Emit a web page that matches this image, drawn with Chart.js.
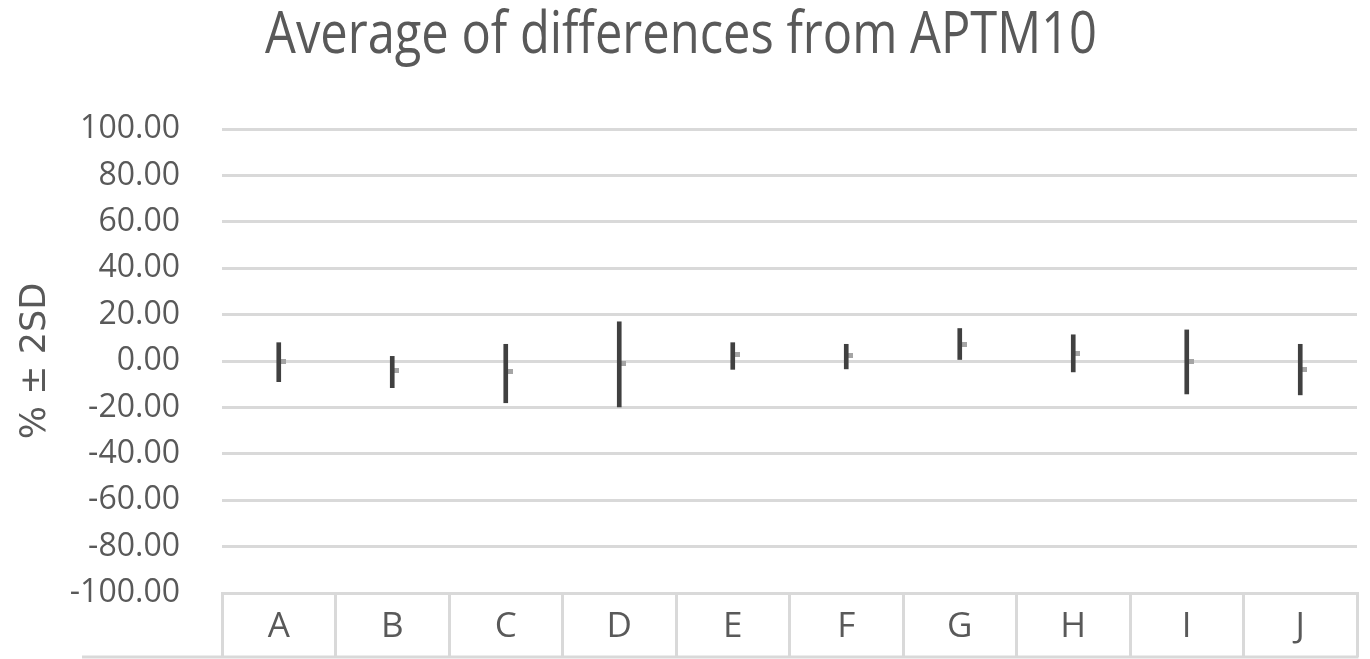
<!DOCTYPE html>
<html>
<head>
<meta charset="utf-8">
<script src="https://cdn.jsdelivr.net/npm/chart.js@4"></script>
<style>
  body { margin: 0; background: #ffffff; }
  #wrap { width: 1370px; height: 659px; }
</style>
</head>
<body>
<div id="wrap"><canvas id="chart" width="1370" height="659"></canvas></div>
<script>
// values
const categories = ['A', 'B', 'C', 'D', 'E', 'F', 'G', 'H', 'I', 'J'];
const means = [-0.3, -4.0, -4.7, -1.1, 2.9, 2.2, 7.3, 3.3, -0.3, -3.6];
const upper = [7.9, 2.0, 7.2, 16.9, 7.9, 7.2, 14.0, 11.3, 13.4, 7.2];
const lower = [-8.9, -11.5, -18.0, -19.8, -3.6, -3.4, 0.0, -4.7, -14.2, -14.6];
const yTicks = [100, 80, 60, 40, 20, 0, -20, -40, -60, -80, -100];

const titleText = 'Average of differences from APTM10';
const axisTitleText = '% ± 2SD';
const textColor = '#595959';
const gridColor = '#d9d9d9';

// small grey dash sitting just right of each bar centre
function makeMeanMarker() {
    const c = document.createElement('canvas');
    c.width = 14;
    c.height = 5;
    const g = c.getContext('2d');
    g.fillStyle = '#a5a5a5';
    g.fillRect(7, 0, 7, 5);
    return c;
}

// the reference title is a tall, narrow face: draw Open Sans fitted to the
// same width and stretched vertically to the same cap height
const tallTitle = {
    id: 'tallTitle',
    afterDraw(chart, args, opts) {
        const ctx = chart.ctx;
        ctx.save();
        ctx.font = '100px "Open Sans"';
        const size = 100 * opts.width / ctx.measureText(opts.text).width;
        ctx.font = `${size}px "Open Sans"`;
        ctx.fillStyle = opts.color;
        ctx.textAlign = 'center';
        ctx.textBaseline = 'alphabetic';
        ctx.translate(chart.width / 2 - 4, opts.baseline);
        ctx.scale(1, opts.capHeight / (0.714 * size));
        ctx.fillText(opts.text, 0, 0);
        ctx.restore();
    }
};

// closes the category "table" at the bottom
const bottomRule = {
    id: 'bottomRule',
    afterDraw(chart) {
        const x = chart.scales.x;
        const ctx = chart.ctx;
        const y = x.top + x.options.grid.tickLength;
        ctx.save();
        ctx.strokeStyle = gridColor;
        ctx.lineWidth = 3;
        ctx.beginPath();
        ctx.moveTo(82, y);
        ctx.lineTo(x.right + 1.5, y);
        ctx.stroke();
        ctx.restore();
    }
};

const ranges = categories.map((c, i) => [lower[i], upper[i]]);
const catFont = { family: 'Open Sans', size: 35 };

new Chart(document.getElementById('chart').getContext('2d'), {
    type: 'bar',
    data: {
        labels: categories,
        datasets: [{
            label: '±2SD',
            data: ranges,
            backgroundColor: '#404040',
            barThickness: 4,
            order: 0
        }, {
            type: 'line',
            label: 'Average',
            data: means,
            showLine: false,
            pointStyle: makeMeanMarker(),
            order: 1
        }]
    },
    options: {
        responsive: false,
        animation: false,
        layout: { padding: { left: 0, right: 13, top: 129, bottom: 2 } },
        plugins: {
            legend: { display: false },
            tooltip: { enabled: false },
            title: { display: false },
            tallTitle: {
                text: titleText,
                color: textColor,
                width: 832,
                baseline: 53,
                capHeight: 42
            }
        },
        scales: {
            x: {
                grid: {
                    offset: true,
                    drawOnChartArea: false,
                    drawTicks: true,
                    tickLength: 64,
                    color: gridColor,
                    lineWidth: 3
                },
                border: { display: true, color: gridColor, width: 3 },
                ticks: {
                    color: textColor,
                    font: catFont,
                    padding: 34 - 64 - catFont.size * 0.6,
                    maxRotation: 0
                },
                afterFit: (scale) => { scale.height = 64; }
            },
            y: {
                min: -100,
                max: 100,
                afterBuildTicks: (scale) => {
                    scale.ticks = yTicks.map(v => ({ value: v }));
                },
                grid: {
                    color: gridColor,
                    lineWidth: 3,
                    drawTicks: false
                },
                border: { display: false },
                ticks: {
                    color: textColor,
                    font: { family: 'Open Sans', size: 32 },
                    padding: 42,
                    callback: (v) => Number(v).toFixed(2)
                },
                title: {
                    display: true,
                    text: axisTitleText,
                    color: textColor,
                    font: { family: 'DejaVu Sans', size: 35 },
                    padding: { top: 15, bottom: 0 }
                },
                afterFit: (scale) => { scale.width = 222; }
            }
        }
    },
    plugins: [tallTitle, bottomRule]
});
</script>
</body>
</html>
